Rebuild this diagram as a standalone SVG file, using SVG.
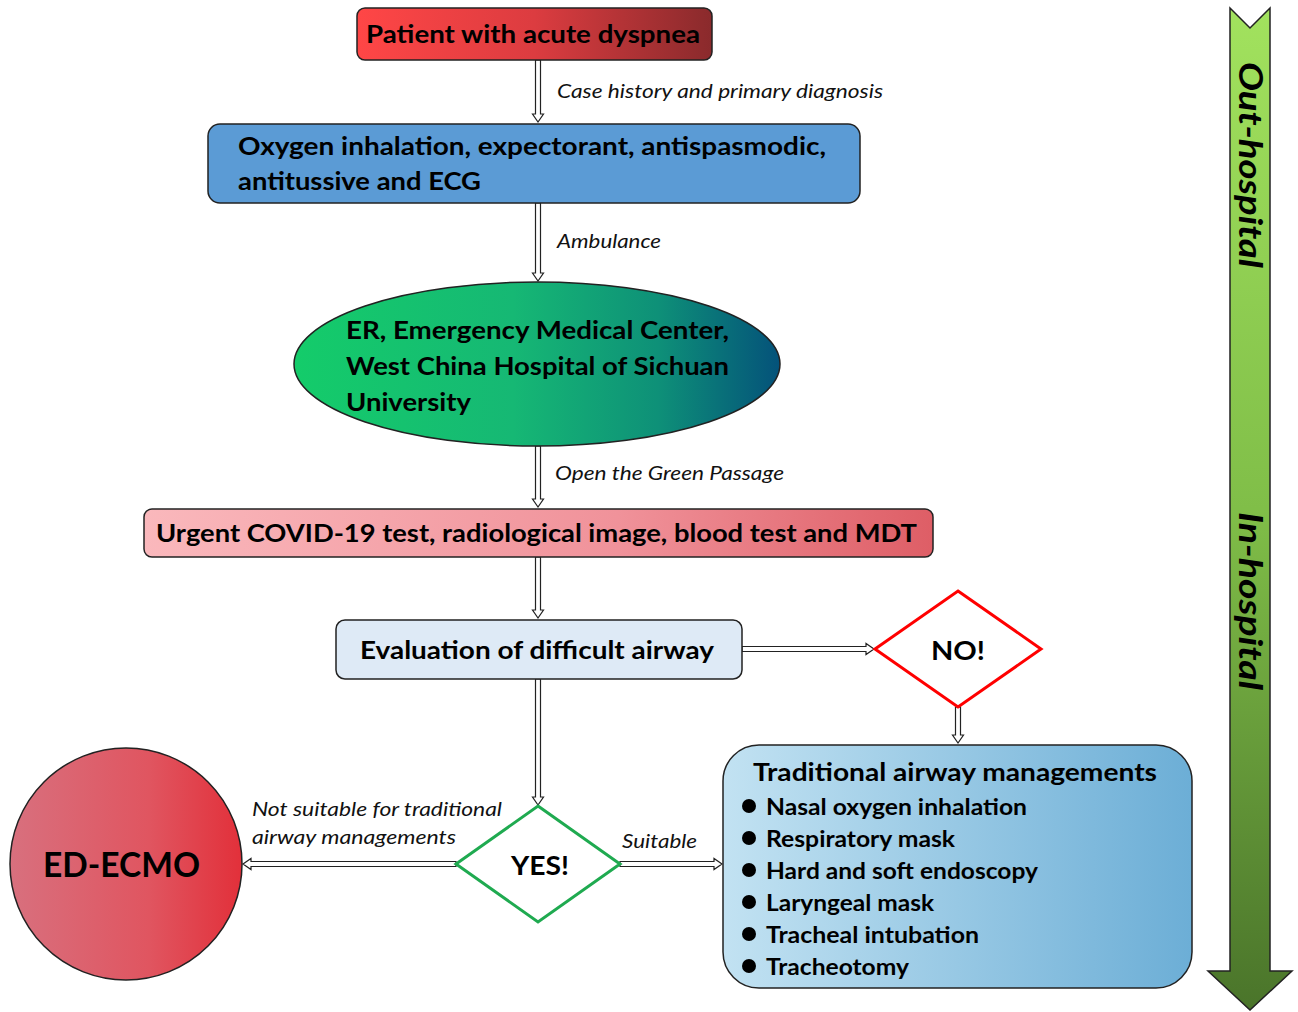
<svg xmlns="http://www.w3.org/2000/svg" width="1298" height="1012" viewBox="0 0 1298 1012">
<defs>
<linearGradient id="gRed" x1="0" y1="0" x2="1" y2="0"><stop offset="0" stop-color="#FF4646"/><stop offset="0.5" stop-color="#DC3C40"/><stop offset="1" stop-color="#8A2A2C"/></linearGradient>
<linearGradient id="gGreen" x1="0" y1="0" x2="1" y2="0"><stop offset="0" stop-color="#14CC6A"/><stop offset="0.45" stop-color="#16B874"/><stop offset="0.75" stop-color="#0E9078"/><stop offset="1" stop-color="#04527A"/></linearGradient>
<linearGradient id="gPink" x1="0" y1="0" x2="1" y2="0"><stop offset="0" stop-color="#FAB8BC"/><stop offset="0.6" stop-color="#F0929A"/><stop offset="1" stop-color="#DE5E66"/></linearGradient>
<linearGradient id="gBlue" x1="0" y1="0" x2="1" y2="0"><stop offset="0" stop-color="#C2E2F2"/><stop offset="1" stop-color="#6CAED6"/></linearGradient>
<linearGradient id="gCircle" x1="0" y1="0" x2="1" y2="0"><stop offset="0" stop-color="#D8707E"/><stop offset="0.6" stop-color="#E05560"/><stop offset="1" stop-color="#E2303A"/></linearGradient>
<linearGradient id="gArrow" x1="0" y1="0" x2="0" y2="1"><stop offset="0" stop-color="#A2E25E"/><stop offset="0.5" stop-color="#80BE48"/><stop offset="1" stop-color="#4A742A"/></linearGradient>
</defs>
<style>
.b{font-family:Lato,"Open Sans","DejaVu Sans",sans-serif;font-weight:bold;fill:#000;}
.i{font-family:Lato,"Open Sans","DejaVu Sans",sans-serif;font-style:italic;fill:#111;font-size:19px;}
.box{stroke:#222;stroke-width:1.5;}
.arr{fill:#fff;stroke:#222;stroke-width:1.2;stroke-linejoin:miter;}
</style>

<g id="timeline">
<polygon points="1230,8 1250,28 1270,8 1270,971 1292,971 1250,1010 1208,971 1230,971" fill="url(#gArrow)" stroke="#222" stroke-width="1.5"/>
<text class="b" font-style="italic" font-size="32" text-anchor="middle" transform="translate(1250,165) rotate(90)" x="0" y="11" textLength="206" lengthAdjust="spacingAndGlyphs">Out-hospital</text>
<text class="b" font-style="italic" font-size="32" text-anchor="middle" transform="translate(1250,601) rotate(90)" x="0" y="11" textLength="178" lengthAdjust="spacingAndGlyphs">In-hospital</text>
</g>

<g id="connectors">
<polygon class="arr" points="535.5,60 540.5,60 540.5,114 543.5,114 538,122 532.5,114 535.5,114"/>
<polygon class="arr" points="535.5,203 540.5,203 540.5,273 543.5,273 538,281 532.5,273 535.5,273"/>
<polygon class="arr" points="535.5,446 540.5,446 540.5,499 543.5,499 538,507 532.5,499 535.5,499"/>
<polygon class="arr" points="535.5,557 540.5,557 540.5,610 543.5,610 538,618 532.5,610 535.5,610"/>
<polygon class="arr" points="535.5,679 540.5,679 540.5,797 543.5,797 538,805 532.5,797 535.5,797"/>
<polygon class="arr" points="955.5,707 960.5,707 960.5,735 963.5,735 958,743 952.5,735 955.5,735"/>
<polygon class="arr" points="742,646.5 866,646.5 866,643.5 874,649 866,654.5 866,651.5 742,651.5"/>
<polygon class="arr" points="456,861.5 251,861.5 251,858.5 243,864 251,869.5 251,866.5 456,866.5"/>
<polygon class="arr" points="620,861.5 714,861.5 714,858.5 722,864 714,869.5 714,866.5 620,866.5"/>
<text class="i" x="557" y="98" textLength="326" lengthAdjust="spacingAndGlyphs">Case history and primary diagnosis</text>
<text class="i" x="557" y="248" textLength="104" lengthAdjust="spacingAndGlyphs">Ambulance</text>
<text class="i" x="555" y="480" textLength="229" lengthAdjust="spacingAndGlyphs">Open the Green Passage</text>
<text class="i" x="252" y="816" textLength="250" lengthAdjust="spacingAndGlyphs">Not suitable for traditional</text>
<text class="i" x="252" y="844" textLength="204" lengthAdjust="spacingAndGlyphs">airway managements</text>
<text class="i" x="622" y="848" textLength="75" lengthAdjust="spacingAndGlyphs">Suitable</text>
</g>

<g id="n-patient">
<rect class="box" x="357" y="8" width="355" height="52" rx="8" fill="url(#gRed)"/>
<text class="b" font-size="25" x="366" y="43" textLength="334" lengthAdjust="spacingAndGlyphs">Patient with acute dyspnea</text>
</g>

<g id="n-oxygen">
<rect class="box" x="208" y="124" width="652" height="79" rx="12" fill="#5B9BD5"/>
<text class="b" font-size="25" x="238" y="155" textLength="588" lengthAdjust="spacingAndGlyphs">Oxygen inhalation, expectorant, antispasmodic,</text>
<text class="b" font-size="25" x="238" y="190" textLength="243" lengthAdjust="spacingAndGlyphs">antitussive and ECG</text>
</g>

<g id="n-er">
<ellipse class="box" cx="537" cy="364" rx="243" ry="82" fill="url(#gGreen)"/>
<text class="b" font-size="25" x="346" y="339" textLength="383" lengthAdjust="spacingAndGlyphs">ER, Emergency Medical Center,</text>
<text class="b" font-size="25" x="346" y="375" textLength="383" lengthAdjust="spacingAndGlyphs">West China Hospital of Sichuan</text>
<text class="b" font-size="25" x="346" y="411" textLength="125" lengthAdjust="spacingAndGlyphs">University</text>
</g>

<g id="n-urgent">
<rect class="box" x="144" y="509" width="789" height="48" rx="8" fill="url(#gPink)"/>
<text class="b" font-size="25" x="156" y="542" textLength="761" lengthAdjust="spacingAndGlyphs">Urgent COVID-19 test, radiological image, blood test and MDT</text>
</g>

<g id="n-eval">
<rect class="box" x="336" y="620" width="406" height="59" rx="9" fill="#DEEAF6"/>
<text class="b" font-size="25" x="360" y="659" textLength="354" lengthAdjust="spacingAndGlyphs">Evaluation of difficult airway</text>
</g>

<g id="n-no">
<polygon points="958,591 1041,649 958,707 875,649" fill="#fff" stroke="#FF0000" stroke-width="3"/>
<text class="b" font-size="27" x="931" y="660" textLength="54" lengthAdjust="spacingAndGlyphs">NO!</text>
</g>

<g id="n-yes">
<polygon points="538,806 620,864 538,922 456,864" fill="#fff" stroke="#1FAA50" stroke-width="3"/>
<text class="b" font-size="27" x="511" y="875" textLength="58" lengthAdjust="spacingAndGlyphs">YES!</text>
</g>

<g id="n-ecmo">
<circle class="box" cx="126" cy="864" r="116" fill="url(#gCircle)"/>
<text class="b" font-size="35" x="43" y="877" textLength="157" lengthAdjust="spacingAndGlyphs">ED-ECMO</text>
</g>

<g id="n-traditional">
<rect class="box" x="723" y="745" width="469" height="243" rx="36" fill="url(#gBlue)"/>
<text class="b" font-size="25" x="753" y="781" textLength="404" lengthAdjust="spacingAndGlyphs">Traditional airway managements</text>
<g fill="#000">
<circle cx="749" cy="806" r="7"/><circle cx="749" cy="838" r="7"/><circle cx="749" cy="870" r="7"/><circle cx="749" cy="902" r="7"/><circle cx="749" cy="934" r="7"/><circle cx="749" cy="966" r="7"/>
</g>
<text class="b" font-size="23" x="766" y="815" textLength="261" lengthAdjust="spacingAndGlyphs">Nasal oxygen inhalation</text>
<text class="b" font-size="23" x="766" y="847" textLength="189" lengthAdjust="spacingAndGlyphs">Respiratory mask</text>
<text class="b" font-size="23" x="766" y="879" textLength="272" lengthAdjust="spacingAndGlyphs">Hard and soft endoscopy</text>
<text class="b" font-size="23" x="766" y="911" textLength="168" lengthAdjust="spacingAndGlyphs">Laryngeal mask</text>
<text class="b" font-size="23" x="766" y="943" textLength="213" lengthAdjust="spacingAndGlyphs">Tracheal intubation</text>
<text class="b" font-size="23" x="766" y="975" textLength="143" lengthAdjust="spacingAndGlyphs">Tracheotomy</text>
</g>
</svg>
